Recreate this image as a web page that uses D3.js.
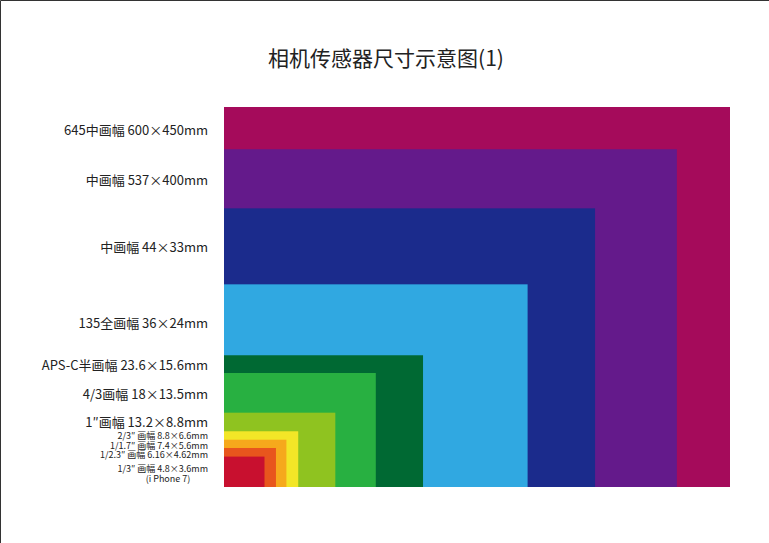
<!DOCTYPE html><html><head><meta charset="utf-8"><script src="https://cdn.jsdelivr.net/npm/d3@7"></script>
<style>body{margin:0;background:#fff}text{font-family:"Noto Sans CJK SC","Noto Sans",sans-serif}</style></head><body><svg id="c" width="769" height="543"></svg><script>
const labels=["645中画幅 600×450mm","中画幅 537×400mm","中画幅 44×33mm","135全画幅 36×24mm","APS-C半画幅 23.6×15.6mm","4/3画幅 18×13.5mm","1″画幅 13.2×8.8mm","2/3″ 画幅 8.8×6.6mm","1/1.7″ 画幅 7.4×5.6mm","1/2.3″ 画幅 6.16×4.62mm","1/3″ 画幅 4.8×3.6mm"];
const widths=[60,53.7,44,36,23.6,18,13.2,8.8,7.4,6.16,4.8];
const heights=[45,40,33,24,15.6,13.5,8.8,6.6,5.6,4.62,3.6];
const colors=["#a50b5b","#641a8b","#1b2b8c","#30a8e1","#006933","#28b041","#8fc320","#f3e627","#f6a91c","#e8561d","#c8102f"];
const labelY=[135,185,252,328,370,399,427,439,449,458,472];
const sizes=[13,13,13,13,13,13,13,9,9,9,9];
const svg=d3.select("#c");
svg.append("path").attr("d","M0.5,543V0.5H769").attr("stroke","#333").attr("fill","none");
const x=d3.scaleLinear().domain([0,60]).range([224,730]);
const y=d3.scaleLinear().domain([0,45]).range([487,107]);
svg.append("text").attr("x",386).attr("y",66).attr("text-anchor","middle").attr("font-size",21).attr("fill","#222").text("相机传感器尺寸示意图(1)");
widths.forEach((w,i)=>{svg.append("rect").attr("x",x(0)).attr("y",y(heights[i])).attr("width",x(w)-x(0)).attr("height",y(0)-y(heights[i])).attr("fill",colors[i]);
svg.append("text").attr("x",208).attr("y",labelY[i]).attr("text-anchor","end").attr("font-size",sizes[i]).attr("fill","#222").text(labels[i]);});
svg.append("text").attr("x",168).attr("y",482).attr("text-anchor","middle").attr("font-size",9).attr("fill","#222").text("(i Phone 7)");
</script></body></html>
